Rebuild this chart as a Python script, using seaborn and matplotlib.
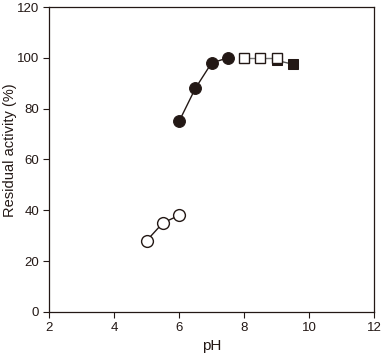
import pandas as pd
import seaborn as sns
import matplotlib.pyplot as plt

# data
ph_open_c = [5.0, 5.5, 6.0]
act_open_c = [28, 35, 38]
ph_fill_c = [6.0, 6.5, 7.0, 7.5]
act_fill_c = [75, 88, 98, 100]
ph_open_s = [8.0, 8.5, 9.0]
act_open_s = [100, 100, 100]
ph_fill_s = [9.0, 9.5]
act_fill_s = [99, 97.5]

sns.set_style('ticks')
plt.rcParams['font.family'] = ['Liberation Sans', 'DejaVu Sans']

fig = plt.figure(figsize=(3.83, 3.54), dpi=100)
ax = fig.add_axes([0.128, 0.119, 0.849, 0.861])

# filled squares go underneath the open squares
sns.lineplot(x=ph_fill_s, y=act_fill_s, ax=ax, color='#555555', lw=1,
             marker='s', markersize=7.5, markerfacecolor='#231815',
             markeredgecolor='#231815', zorder=2)
sns.lineplot(x=ph_open_s, y=act_open_s, ax=ax, color='#777777', lw=1,
             marker='s', markersize=7.5, markerfacecolor='white',
             markeredgecolor='#231815', markeredgewidth=1, zorder=3)
sns.lineplot(x=ph_fill_c, y=act_fill_c, ax=ax, color='#231815', lw=1,
             marker='o', markersize=8.5, markerfacecolor='#231815',
             markeredgecolor='#231815', zorder=3)
sns.lineplot(x=ph_open_c, y=act_open_c, ax=ax, color='#231815', lw=1,
             marker='o', markersize=8.5, markerfacecolor='white',
             markeredgecolor='#231815', markeredgewidth=1, zorder=3)

ax.set_xlim(2, 12)
ax.set_ylim(0, 120)
ax.set_xticks([2, 4, 6, 8, 10, 12])
ax.set_yticks([0, 20, 40, 60, 80, 100, 120])
ax.tick_params(labelsize=9.5, length=4, width=0.8, pad=3, color='#231815', labelcolor='#231815')
for s in ax.spines.values():
    s.set_linewidth(0.9)
    s.set_color('#231815')
ax.set_xlabel('pH', fontsize=11, color='#231815')
ax.set_ylabel('Residual activity (%)', fontsize=10.5, color='#231815')
ax.yaxis.set_label_coords(-0.1, 0.53)

fig.savefig('out.png', dpi=100)
